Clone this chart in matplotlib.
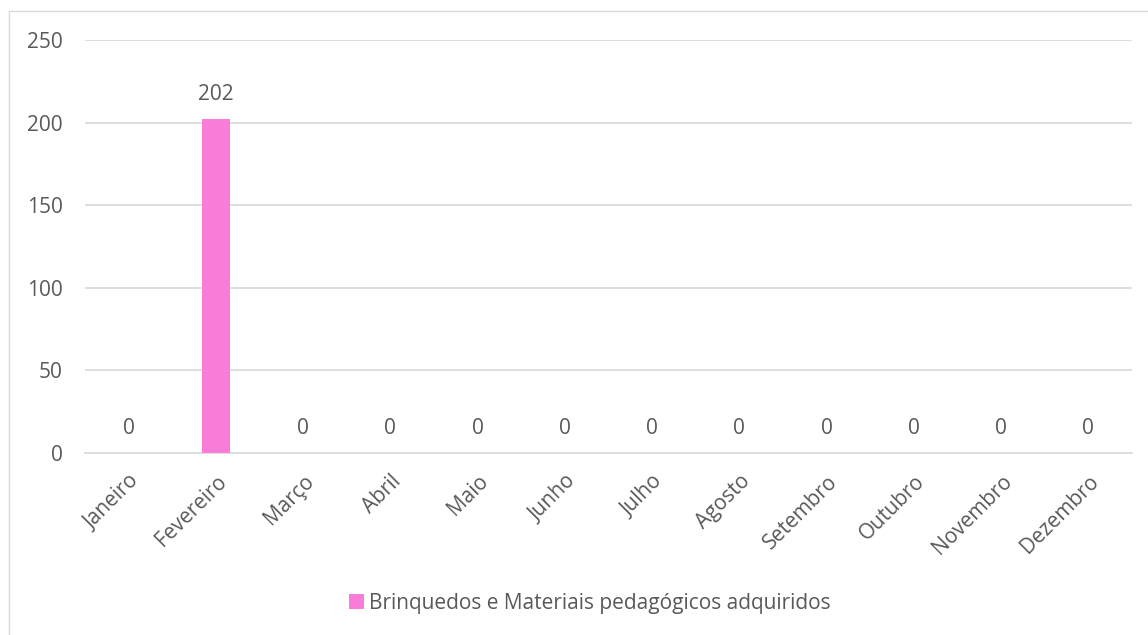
import matplotlib.pyplot as plt
from matplotlib.patches import Rectangle

months = ["Janeiro", "Fevereiro", "Março", "Abril", "Maio", "Junho",
          "Julho", "Agosto", "Setembro", "Outubro", "Novembro", "Dezembro"]
values = [0, 202, 0, 0, 0, 0, 0, 0, 0, 0, 0, 0]
series_name = "Brinquedos e Materiais pedagógicos adquiridos"
y_ticks = [0, 50, 100, 150, 200, 250]

TEXT = "#595959"
GRID = "#D9D9D9"
PINK = "#F87CD8"
FS = 15

plt.rcParams["font.family"] = ["Open Sans", "DejaVu Sans"]

W, H = 1148, 635
fig = plt.figure(figsize=(W / 100, H / 100), dpi=100)

# outer chart border (runs off the right and bottom edges)
fig.patches.append(Rectangle((9 / W, -0.1), 1.2, 1.1 - 11 / H,
                             transform=fig.transFigure, fill=False,
                             edgecolor=GRID, linewidth=1.0))

ax = fig.add_axes([85 / W, 1 - 453 / H, (1132 - 85) / W, (453 - 40) / H])

x = list(range(len(months)))
ax.bar(x, values, width=0.32, color=PINK, label=series_name, zorder=3)

for xi, v in zip(x, values):
    ax.annotate(str(v), (xi, v), xytext=(0, 18), textcoords="offset points",
                ha="center", va="center", fontsize=FS, color=TEXT)

ax.set_xlim(-0.5, len(months) - 0.5)
ax.set_ylim(0, 250)
ax.set_yticks(y_ticks)
ax.set_yticklabels([str(t) for t in y_ticks], fontsize=FS, color=TEXT)
ax.set_xticks(x)
ax.set_xticklabels(months, rotation=45, ha="right", rotation_mode="anchor",
                   fontsize=FS, color=TEXT)
ax.tick_params(axis="x", length=0, pad=13)
ax.tick_params(axis="y", length=0, pad=16)

ax.grid(axis="y", color=GRID, linewidth=1.2, zorder=0)
for s in ["top", "right", "left"]:
    ax.spines[s].set_visible(False)
ax.spines["bottom"].set_color(GRID)
ax.spines["bottom"].set_linewidth(1.2)

fig.legend(loc="center", bbox_to_anchor=(590 / W, 1 - 603 / H), frameon=False,
           fontsize=FS, labelcolor=TEXT, handlelength=0.7, handleheight=0.7,
           handletextpad=0.25)

fig.savefig("out.png", dpi=100, facecolor="white")
